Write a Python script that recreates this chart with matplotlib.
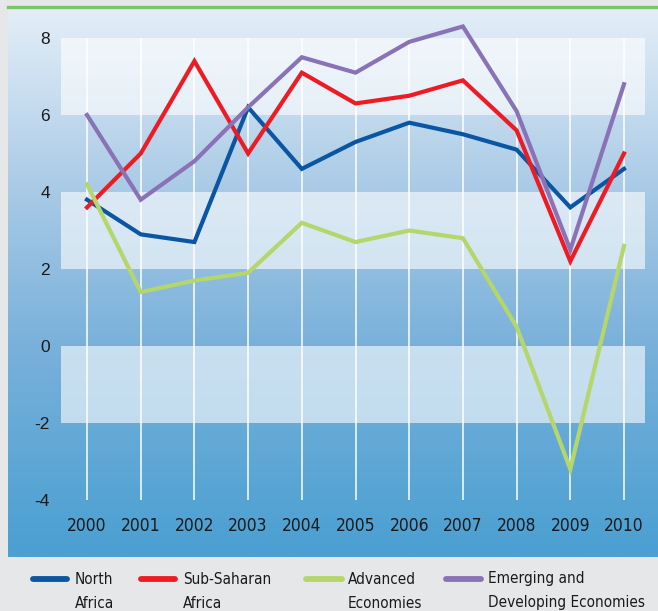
import numpy as np
import matplotlib
matplotlib.use("Agg")
import matplotlib.pyplot as plt
from matplotlib.lines import Line2D
from matplotlib.colors import LinearSegmentedColormap
from matplotlib import font_manager
import warnings
warnings.filterwarnings("ignore")

years = list(range(2000, 2011))
north_africa = [3.8, 2.9, 2.7, 6.2, 4.6, 5.3, 5.8, 5.5, 5.1, 3.6, 4.6]
sub_saharan = [3.6, 5.0, 7.4, 5.0, 7.1, 6.3, 6.5, 6.9, 5.6, 2.2, 5.0]
advanced = [4.2, 1.4, 1.7, 1.9, 3.2, 2.7, 3.0, 2.8, 0.5, -3.2, 2.6]
emerging = [6.0, 3.8, 4.8, 6.2, 7.5, 7.1, 7.9, 8.3, 6.1, 2.5, 6.8]
series_labels = ["North\nAfrica", "Sub-Saharan\nAfrica", "Advanced\nEconomies",
                 "Emerging and\nDeveloping Economies"]
colors = ["#0a56a3", "#ed1c24", "#b5d66b", "#8a72b7"]
yticks = [-4, -2, 0, 2, 4, 6, 8]

W, H = 658, 611
fig = plt.figure(figsize=(W / 100, H / 100), dpi=100)
fig.patch.set_facecolor("#e6e7e8")

# choose a condensed face if one is installed
cond_kw = None
for fam in ["Liberation Sans Narrow", "DejaVu Sans", "Roboto", "Open Sans", "Noto Sans"]:
    fp = font_manager.FontProperties(family=fam, stretch="condensed")
    try:
        path = font_manager.findfont(fp, fallback_to_default=False)
    except Exception:
        continue
    if "ondensed" in path or "Narrow" in path:
        cond_kw = dict(family=fam, stretch="condensed")
        break
if cond_kw is None:
    cond_kw = dict(family=["Liberation Sans", "DejaVu Sans"])
reg = ["Liberation Sans", "DejaVu Sans"]

def fx(px):
    return px / W

def fy(py):
    return 1 - py / H

# background panel with gradient
pl, pt, pb = 8, 8, 557
bg = fig.add_axes([fx(pl), fy(pb), 1 - fx(pl), fy(pt) - fy(pb)])
cmap = LinearSegmentedColormap.from_list("bg", [
    (0.0, "#e4eef8"), (0.17, "#c6dcef"), (0.33, "#a9cae6"),
    (0.61, "#7ab1db"), (0.9, "#55a4d4"), (1.0, "#4b9fd2")])
grad = np.linspace(0, 1, 256).reshape(-1, 1)
bg.imshow(grad, aspect="auto", cmap=cmap, extent=[0, 1, 0, 1], origin="upper")
bg.set_axis_off()

# green top rule
fig.add_artist(Line2D([fx(pl), 1], [fy(7), fy(7)], color="#7cc46a", lw=2.4))

# main axes
al, ar, at, ab = 61, 645, 38, 500
ax = fig.add_axes([fx(al), fy(ab), fx(ar) - fx(al), fy(at) - fy(ab)])
ax.patch.set_alpha(0)
x0 = 2000 - 26 / 53.7
x1 = 2010 + 21 / 53.7
ax.set_xlim(x0, x1)
ax.set_ylim(-4, 8)
for lo in (6, 2, -2):
    ax.axhspan(lo, lo + 2, color="white", alpha=0.6, lw=0, zorder=0)
for yr in years:
    ax.axvline(yr, color="white", lw=1.1, zorder=1)

for vals, c in zip([north_africa, sub_saharan, advanced, emerging], colors):
    ax.plot(years, vals, color=c, lw=3.0, zorder=3, solid_joinstyle="miter",
            clip_on=False)

for s in ax.spines.values():
    s.set_visible(False)
ax.set_xticks(years)
ax.set_xticklabels([str(y) for y in years], color="#1a1a1a", fontsize=12.5, **cond_kw)
ax.set_yticks(yticks)
ax.set_yticklabels([str(v) for v in yticks], family=reg, fontsize=12.5, color="#1a1a1a")
ax.tick_params(axis="x", length=0, pad=12)
ax.tick_params(axis="y", length=0, pad=8)

# legend (manual)
leg_items = [(33, 67, 75), (141, 175, 183), (306, 342, 348), (446, 481, 488)]
ly = 579
for (h0, h1, tx), lab, c in zip(leg_items, series_labels, colors):
    fig.add_artist(Line2D([fx(h0), fx(h1)], [fy(ly), fy(ly)], color=c, lw=4.2,
                          solid_capstyle="round"))
    fig.text(fx(tx), fy(ly), lab.split("\n")[0], va="center", ha="left",
             color="#1a1a1a", fontsize=11, **cond_kw)
    fig.text(fx(tx), fy(ly + 24), lab.split("\n")[1], va="center", ha="left",
             color="#1a1a1a", fontsize=11, **cond_kw)

fig.savefig("out.png", dpi=100, facecolor=fig.get_facecolor())
